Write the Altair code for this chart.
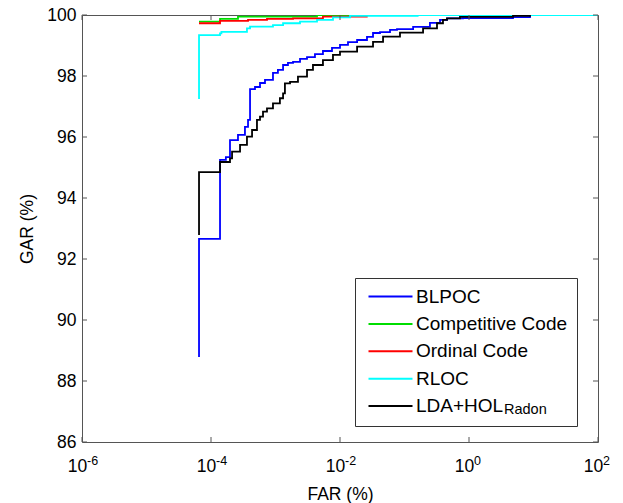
import altair as alt
import pandas as pd

FONT = "Liberation Sans"
FRAME = "#555555"

series = ["BLPOC", "Competitive Code", "Ordinal Code", "RLOC", "LDA+HOL"]
colors = ["#0000ff", "#00dd00", "#ff0000", "#00ffff", "#000000"]

# FAR (%) where each level starts, and the GAR (%) level
blpoc_far = [6.52e-5, 6.52e-5, 1.38e-4, 1.70e-4, 1.97e-4, 2.62e-4, 3.36e-4, 3.75e-4, 4.03e-4,
             4.81e-4, 5.75e-4, 6.87e-4, 9.14e-4, 1.09e-3, 1.31e-3, 1.56e-3, 1.87e-3, 2.40e-3,
             3.08e-3, 4.09e-3, 5.44e-3, 7.51e-3, 1.0e-2, 1.33e-2, 1.84e-2, 2.62e-2, 3.25e-2,
             4.17e-2, 5.96e-2, 7.65e-2, 0.136, 0.248, 0.355, 0.456, 0.807, 4.81, 8.83]
blpoc_gar = [88.79, 92.66, 95.25, 95.34, 95.90, 96.07, 96.33, 96.56, 97.57,
             97.64, 97.77, 97.87, 98.10, 98.20, 98.36, 98.43, 98.46, 98.56,
             98.62, 98.72, 98.82, 98.92, 99.02, 99.11, 99.18, 99.28, 99.41,
             99.44, 99.51, 99.54, 99.61, 99.74, 99.84, 99.89, 99.90, 99.93, 100.0]

comp_far = [6.52e-5, 1.38e-4, 2.62e-4, 4.4e-3, 100.0]
comp_gar = [99.78, 99.87, 99.95, 100.0, 100.0]

ord_far = [6.52e-5, 1.38e-4, 3.75e-4, 7.38e-4, 1.87e-3, 5.44e-3, 2.6e-2, 100.0]
ord_gar = [99.73, 99.81, 99.84, 99.87, 99.89, 99.95, 100.0, 100.0]

rloc_far = [6.52e-5, 6.52e-5, 1.38e-4, 1.45e-4, 3.61e-4, 4.03e-4, 9.14e-4, 1.31e-3, 2.40e-3,
            4.40e-3, 7.78e-3, 1.43e-2, 0.16, 100.0]
rloc_gar = [97.25, 99.34, 99.40, 99.45, 99.56, 99.62, 99.67, 99.73, 99.78,
            99.84, 99.92, 99.97, 100.0, 100.0]

lda_far = [6.52e-5, 6.52e-5, 1.38e-4, 1.97e-4, 2.12e-4, 2.82e-4, 3.61e-4, 4.33e-4, 5.16e-4,
           5.75e-4, 6.40e-4, 7.38e-4, 9.14e-4, 1.17e-3, 1.31e-3, 1.40e-3, 1.68e-3, 2.23e-3,
           3.08e-3, 3.81e-3, 5.44e-3, 7.78e-3, 1.0e-2, 1.84e-2, 3.25e-2, 4.65e-2, 8.51e-2,
           0.194, 0.319, 0.395, 0.456, 0.724, 4.81, 8.83]
lda_gar = [92.79, 94.85, 95.18, 95.30, 95.52, 95.74, 96.01, 96.23, 96.56,
           96.67, 96.83, 96.94, 97.10, 97.27, 97.43, 97.76, 97.81, 97.98,
           98.20, 98.36, 98.52, 98.69, 98.80, 98.96, 99.12, 99.29, 99.42,
           99.56, 99.73, 99.84, 99.89, 99.94, 99.97, 100.0]

x_tick_exp = [-6, -4, -2, 0, 2]
x_tick_base = "10"
x_tick_sup = ["-6", "-4", "-2", "0", "2"]
y_ticks = [86, 88, 90, 92, 94, 96, 98, 100]
legend_subscript = "Radon"

rows = []
for name, fars, gars in zip(series, [blpoc_far, comp_far, ord_far, rloc_far, lda_far],
                            [blpoc_gar, comp_gar, ord_gar, rloc_gar, lda_gar]):
    for i, (f, g) in enumerate(zip(fars, gars)):
        rows.append({"series": name, "far": f, "gar": g, "order": i})
df = pd.DataFrame(rows)

x_ticks = [10.0 ** e for e in x_tick_exp]
xt_df = pd.DataFrame({"far": x_ticks, "sup": x_tick_sup})
yt_df = pd.DataFrame({"gar": y_ticks})

W, H = 516, 427
TICK = 5

xscale = alt.Scale(type="log", domain=[1e-6, 1e2], nice=False)
yscale = alt.Scale(domain=[86, 100], nice=False, zero=False)
cscale = alt.Scale(domain=series, range=colors)

xaxis = alt.Axis(values=x_ticks, labelExpr=f"'{x_tick_base}'", labelOffset=-5, labelFlush=False,
                 labelOverlap=False, ticks=False,
                 tickSize=0, domain=False, grid=False, labelFont=FONT, labelFontSize=17.5,
                 labelColor="black", labelPadding=15, title="FAR (%)", titleFont=FONT,
                 titleFontSize=17.5, titleFontWeight="normal", titleColor="black",
                 titleY=52, titleBaseline="middle")
yaxis = alt.Axis(values=y_ticks, ticks=False, tickSize=0, domain=False, grid=False,
                 labelFlush=False, labelOverlap=False,
                 labelFont=FONT, labelFontSize=17.5, labelColor="black", labelPadding=6,
                 title="GAR (%)", titleFont=FONT, titleFontSize=17.5, titleFontWeight="normal",
                 titleColor="black", titleX=-55, titleY=H / 2, titleAngle=270,
                 titleBaseline="middle", titleAlign="center")

legend = alt.Legend(title=None, orient="none", legendX=273, legendY=263,
                    symbolType="M-1.0,0H7.8", symbolSize=100, symbolStrokeWidth=2,
                    labelFont=FONT, labelFontSize=19, labelColor="black", labelOffset=33,
                    rowPadding=7.4, padding=9, strokeColor="#333333")

base = alt.Chart(df).encode(
    x=alt.X("far:Q", scale=xscale, axis=xaxis),
    y=alt.Y("gar:Q", scale=yscale, axis=yaxis),
    color=alt.Color("series:N", scale=cscale, legend=legend),
    order=alt.Order("order:Q"),
)

lines = [
    base.transform_filter(alt.datum.series == name).mark_line(
        interpolate="step-after", strokeWidth=1.8, clip=True)
    for name in series
]

bottom_ticks = alt.Chart(xt_df).mark_rule(color=FRAME, strokeWidth=1).encode(
    x=alt.X("far:Q", scale=xscale, axis=xaxis), y=alt.value(H), y2=alt.value(H - TICK))
top_ticks = alt.Chart(xt_df).mark_rule(color=FRAME, strokeWidth=1).encode(
    x=alt.X("far:Q", scale=xscale, axis=xaxis), y=alt.value(0), y2=alt.value(TICK))
left_ticks = alt.Chart(yt_df).mark_rule(color=FRAME, strokeWidth=1).encode(
    y=alt.Y("gar:Q", scale=yscale, axis=yaxis), x=alt.value(0), x2=alt.value(TICK))
right_ticks = alt.Chart(yt_df).mark_rule(color=FRAME, strokeWidth=1).encode(
    y=alt.Y("gar:Q", scale=yscale, axis=yaxis), x=alt.value(W), x2=alt.value(W - TICK))

exponents = alt.Chart(xt_df).mark_text(font=FONT, fontSize=12.5, align="left",
                                       baseline="alphabetic", dx=5, color="black").encode(
    x=alt.X("far:Q", scale=xscale, axis=xaxis), y=alt.value(H + 23), text="sup:N")

sub_df = pd.DataFrame({"t": [legend_subscript]})
subscript = alt.Chart(sub_df).mark_text(font=FONT, fontSize=14.5, align="left",
                                        baseline="middle", color="black").encode(
    text="t:N", x=alt.value(422), y=alt.value(395))

chart = alt.layer(*lines, bottom_ticks, top_ticks, left_ticks, right_ticks, exponents,
                  subscript).properties(
    width=W, height=H,
    autosize=alt.AutoSizeParams(type="none"),
    padding={"left": 82, "top": 15, "right": 25, "bottom": 61},
    background="white",
).configure_view(stroke=FRAME, strokeWidth=1)

chart.save("out.html", embed_options={"renderer": "svg", "actions": False})
